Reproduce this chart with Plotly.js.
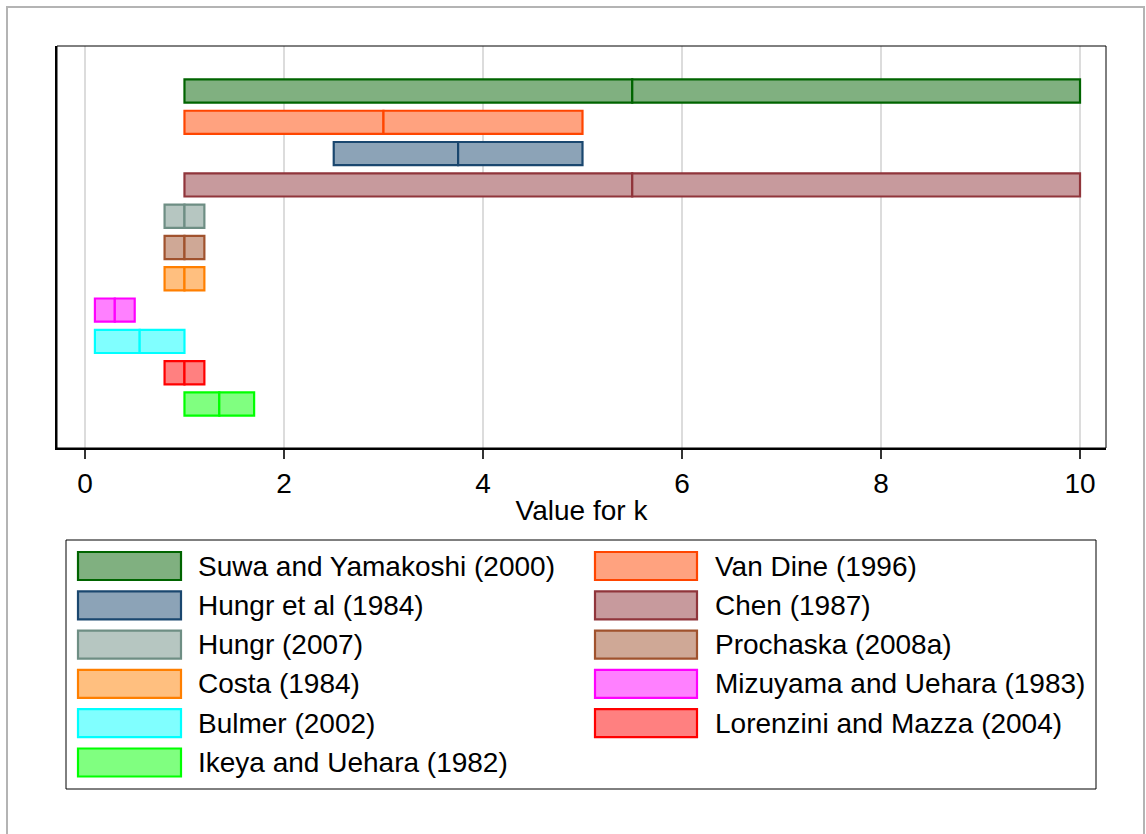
<!DOCTYPE html>
<html>
<head>
<meta charset="utf-8">
<script src="https://cdn.plot.ly/plotly-3.0.1.min.js"></script>
<style>
  html, body { margin: 0; padding: 0; background: #ffffff; }
  #chart { width: 1146px; height: 834px; }
</style>
</head>
<body>
<div id="chart"></div>
<script>
// ---- data ----
var studies = ["Suwa and Yamakoshi (2000)", "Van Dine (1996)", "Hungr et al (1984)", "Chen (1987)",
  "Hungr (2007)", "Prochaska (2008a)", "Costa (1984)", "Mizuyama and Uehara (1983)",
  "Bulmer (2002)", "Lorenzini and Mazza (2004)", "Ikeya and Uehara (1982)"];
var lowK  = [1, 1, 2.5, 1, 0.8, 0.8, 0.8, 0.1, 0.1, 0.8, 1];
var medK  = [5.5, 3, 3.75, 5.5, 1, 1, 1, 0.3, 0.55, 1, 1.35];
var highK = [10, 5, 5, 10, 1.2, 1.2, 1.2, 0.5, 1, 1.2, 1.7];
var fillColors = ["#80b080", "#ffa27f", "#8ca3b7", "#c79a9d", "#b6c6c1", "#cfa896",
  "#ffbf7f", "#ff80ff", "#80ffff", "#ff8080", "#80ff80"];
var lineColors = ["#006400", "#ff4500", "#1a476f", "#90353b", "#6e8e84", "#a0522d",
  "#ff7f00", "#ff00ff", "#00ffff", "#ff0000", "#00ff00"];
var xTicks = [0, 2, 4, 6, 8, 10];

// ---- layout geometry (pixels) ----
var W = 1146, H = 834;
var mL = 57, mR = 40, mT = 46, mB = 386;
var plotW = W - mL - mR, plotH = H - mT - mB;
function px(x) { return (x - mL) / plotW; }
function py(y) { return (H - mB - y) / plotH; }

var pos = studies.map(function (s, i) { return i + 1; });

var FONT = "Liberation Sans, Arial, Helvetica, sans-serif";
var FS = 28;

var traceLo = {
  type: "bar", orientation: "h",
  y: pos,
  base: lowK,
  x: lowK.map(function (v, i) { return medK[i] - v; }),
  width: 0.74,
  marker: { color: fillColors, line: { color: lineColors, width: 2.2 } },
  showlegend: false, hoverinfo: "skip"
};
var traceHi = {
  type: "bar", orientation: "h",
  y: pos,
  base: medK,
  x: medK.map(function (v, i) { return highK[i] - v; }),
  width: 0.74,
  marker: { color: fillColors, line: { color: lineColors, width: 2.2 } },
  showlegend: false, hoverinfo: "skip"
};

// ---- custom legend (2 columns, row-major) ----
var shapes = [];
var annotations = [];
var colSwatchX = [[78, 181], [595, 697]];
var colTextX = [196, 713];
var rowY0 = 566, rowStep = 39.3, swH = 28;
studies.forEach(function (name, i) {
  var col = i % 2, row = Math.floor(i / 2);
  var cy = rowY0 + row * rowStep;
  shapes.push({
    type: "rect", xref: "paper", yref: "paper", layer: "above",
    x0: px(colSwatchX[col][0]), x1: px(colSwatchX[col][1]),
    y0: py(cy - swH / 2), y1: py(cy + swH / 2),
    fillcolor: fillColors[i], line: { color: lineColors[i], width: 2.2 }
  });
  annotations.push({
    xref: "paper", yref: "paper", x: px(colTextX[col]), y: py(cy),
    xanchor: "left", yanchor: "middle", showarrow: false,
    text: name, font: { family: FONT, size: FS, color: "#000000" }
  });
});
// legend box
shapes.push({
  type: "rect", xref: "paper", yref: "paper", layer: "above",
  x0: px(66), x1: px(1096), y0: py(789), y1: py(540),
  line: { color: "#000000", width: 1 }
});
// plot frame (top/right thin)
shapes.push({
  type: "rect", xref: "paper", yref: "paper", layer: "above",
  x0: 0, x1: 1, y0: 0, y1: 1, line: { color: "#000000", width: 1 }
});
// outer gray border
shapes.push({
  type: "rect", xref: "paper", yref: "paper", layer: "above",
  x0: px(7), x1: px(1144), y0: py(900), y1: py(7),
  line: { color: "#b4b4b4", width: 2 }
});

var layout = {
  width: W, height: H,
  margin: { l: mL, r: mR, t: mT, b: mB, pad: 0 },
  paper_bgcolor: "#ffffff", plot_bgcolor: "#ffffff",
  barmode: "overlay",
  showlegend: false,
  font: { family: FONT, size: FS, color: "#000000" },
  xaxis: {
    range: [-0.281, 10.261],
    tickvals: xTicks,
    ticktext: xTicks.map(String),
    ticks: "outside", ticklen: 9, tickwidth: 1.5, tickcolor: "#333333",
    showgrid: true, gridcolor: "#dcdcdc", gridwidth: 2,
    zeroline: false,
    showline: true, linecolor: "#000000", linewidth: 2,
    tickfont: { family: FONT, size: FS, color: "#000000" },
    title: { text: "Value for k", font: { family: FONT, size: FS, color: "#000000" }, standoff: 3 },
    fixedrange: true
  },
  yaxis: {
    range: [12.406, -0.438],
    showticklabels: false, ticks: "",
    showgrid: false, zeroline: false,
    showline: true, linecolor: "#000000", linewidth: 2,
    fixedrange: true
  },
  shapes: shapes,
  annotations: annotations
};

Plotly.newPlot("chart", [traceLo, traceHi], layout, { staticPlot: true, displayModeBar: false });
</script>
</body>
</html>
